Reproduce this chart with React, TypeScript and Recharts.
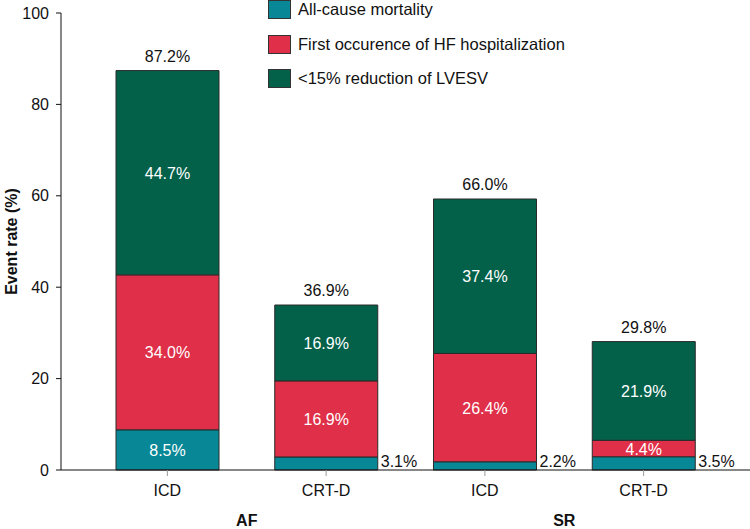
import { BarChart, Bar, XAxis, YAxis, Legend, LabelList, Label } from 'recharts';

const groups = ['AF', 'SR'];
const devices = ['ICD', 'CRT-D', 'ICD', 'CRT-D'];

// segment heights as drawn in the figure
const mortality = [8.8, 2.85, 1.8, 2.9];
const hfHosp = [33.9, 16.65, 23.7, 3.6];
const lvesv = [44.7, 16.6, 33.8, 21.6];

// printed labels
const mortalityLabels = ['8.5%', '3.1%', '2.2%', '3.5%'];
const hfLabels = ['34.0%', '16.9%', '26.4%', '4.4%'];
const lvesvLabels = ['44.7%', '16.9%', '37.4%', '21.9%'];
const totalLabels = ['87.2%', '36.9%', '66.0%', '29.8%'];

const yTicks = [0, 20, 40, 60, 80, 100];

const SERIES = [
  { key: 'mortality', name: 'All-cause mortality', color: '#088896' },
  { key: 'hf', name: 'First occurence of HF hospitalization', color: '#e02f48' },
  { key: 'lvesv', name: '<15% reduction of LVESV', color: '#03614a' },
];

const data = devices.map((d, i) => ({
  name: d,
  mortality: mortality[i],
  hf: hfHosp[i],
  lvesv: lvesv[i],
}));

const FONT = '"Liberation Sans", Arial, Helvetica, sans-serif';
const W = 750;
const H = 529;
const Y_AXIS_W = 61;
const X_PAD = 27;
const BAND = (W - Y_AXIS_W - X_PAD * 2) / devices.length;

const XTick = (props: any) => {
  const { x, y, payload, index } = props;
  return (
    <g>
      <text x={x} y={y + 18} textAnchor="middle" fontSize={16} fill="#111">
        {payload.value}
      </text>
      {index % 2 === 0 && (
        <text
          x={x + BAND / 2}
          y={y + 48}
          textAnchor="middle"
          fontSize={16}
          fontWeight="bold"
          fill="#111"
        >
          {groups[index / 2]}
        </text>
      )}
    </g>
  );
};

const centerLabel = (labels: string[]) => (props: any) => {
  const { x, y, width, height, index } = props;
  return (
    <text
      x={x + width / 2}
      y={y + height / 2 + 6}
      textAnchor="middle"
      fontSize={16}
      fill="#fff"
    >
      {labels[index]}
    </text>
  );
};

const mortalityLabel = (props: any) => {
  const { x, y, width, height, index } = props;
  if (height < 20) {
    return (
      <text x={x + width + 3} y={y + height - 3} fontSize={16} fill="#111">
        {mortalityLabels[index]}
      </text>
    );
  }
  return centerLabel(mortalityLabels)(props);
};

const totalLabel = (props: any) => {
  const { x, y, width, index } = props;
  return (
    <text x={x + width / 2} y={y - 9} textAnchor="middle" fontSize={16} fill="#111">
      {totalLabels[index]}
    </text>
  );
};

const LegendBox = () => (
  <div style={{ fontFamily: FONT }}>
    {SERIES.map((s) => (
      <div
        key={s.key}
        style={{ display: 'flex', alignItems: 'center', height: 19, marginBottom: 15.5 }}
      >
        <div
          style={{
            width: 23,
            height: 19,
            background: s.color,
            border: '1px solid #333',
            boxSizing: 'border-box',
            marginRight: 7,
          }}
        />
        <span style={{ fontSize: 16.5, lineHeight: '19px', color: '#111' }}>{s.name}</span>
      </div>
    ))}
  </div>
);

export default function App() {
  return (
    <div style={{ position: 'absolute', left: 0, top: 0, width: W, height: H, background: '#fff', fontFamily: FONT }}>
      <BarChart
        width={W}
        height={H}
        data={data}
        margin={{ top: 13, right: 0, left: 0, bottom: 0 }}
        barSize={103}
        style={{ fontFamily: FONT }}
      >
        <XAxis
          dataKey="name"
          height={59}
          padding={{ left: X_PAD, right: X_PAD }}
          axisLine={{ stroke: '#111' }}
          tickLine={{ stroke: '#999' }}
          tickSize={6}
          tick={<XTick />}
          interval={0}
        />
        <YAxis
          width={Y_AXIS_W}
          domain={[0, 100]}
          ticks={yTicks}
          axisLine={{ stroke: '#111' }}
          tickLine={{ stroke: '#111' }}
          tickSize={5}
          tickMargin={7}
          tick={{ fontSize: 16, fill: '#111' }}
        >
          <Label
            content={(p: any) => {
              const vb = p.viewBox;
              const cx = 17;
              const cy = vb.y + vb.height / 2;
              return (
                <text
                  x={cx}
                  y={cy}
                  transform={`rotate(-90 ${cx} ${cy})`}
                  textAnchor="middle"
                  fontSize={16}
                  fontWeight="bold"
                  fill="#111"
                >
                  Event rate (%)
                </text>
              );
            }}
          />
        </YAxis>
        <Legend
          layout="vertical"
          align="center"
          verticalAlign="middle"
          wrapperStyle={{ left: 268, top: 0, width: 'auto' }}
          content={<LegendBox />}
        />
        <Bar dataKey="mortality" stackId="a" fill={SERIES[0].color} stroke="#2a2a2a" strokeWidth={1} isAnimationActive={false} name={SERIES[0].name}>
          <LabelList dataKey="mortality" content={mortalityLabel} />
        </Bar>
        <Bar dataKey="hf" stackId="a" fill={SERIES[1].color} stroke="#2a2a2a" strokeWidth={1} isAnimationActive={false} name={SERIES[1].name}>
          <LabelList dataKey="hf" content={centerLabel(hfLabels)} />
        </Bar>
        <Bar dataKey="lvesv" stackId="a" fill={SERIES[2].color} stroke="#2a2a2a" strokeWidth={1} isAnimationActive={false} name={SERIES[2].name}>
          <LabelList dataKey="lvesv" content={centerLabel(lvesvLabels)} />
          <LabelList dataKey="lvesv" content={totalLabel} />
        </Bar>
      </BarChart>
    </div>
  );
}
